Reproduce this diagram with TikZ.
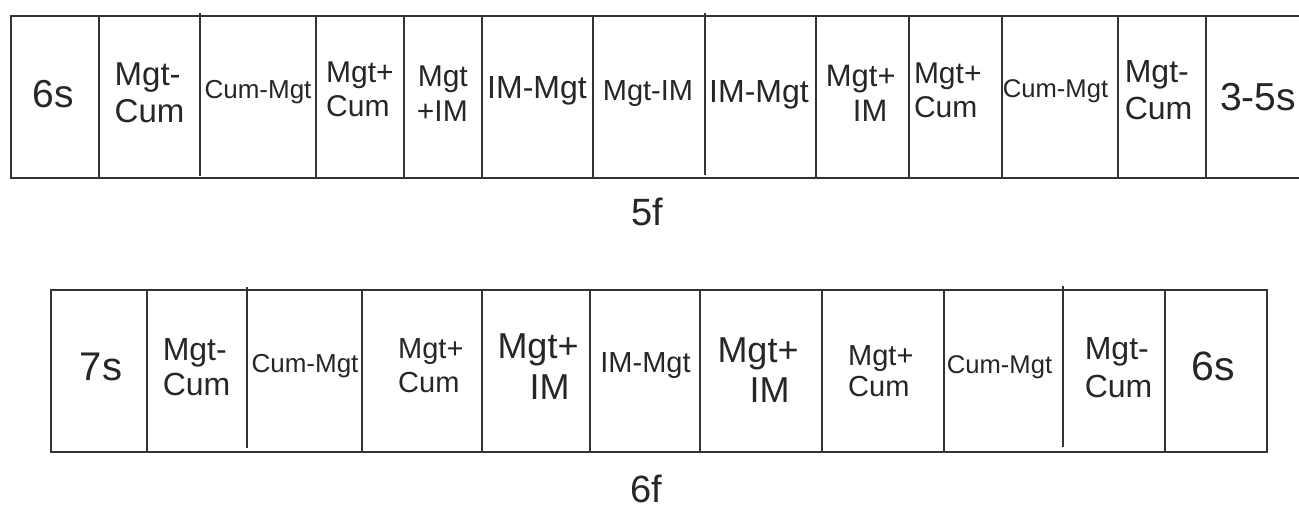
\documentclass[tikz,border=0pt]{standalone}
\usepackage{fontspec}
\setmainfont{Liberation Sans}
\newcommand{\fsz}[2]{\fontsize{#1pt}{#2pt}\selectfont}
\begin{document}
\begin{tikzpicture}[x=1pt,y=-1pt,
  grid/.style={draw=black!80,line width=2pt},
  lbl/.style={inner sep=0pt,text=black!85},
  one/.style={lbl,anchor=base},
  twol/.style={lbl,anchor=west,align=left},
  twor/.style={lbl,anchor=east,align=right}]
\useasboundingbox (0,0) rectangle (1299,507);

% ---- upper strip (open on the right) ----
\draw[grid] (1299,16) -- (11,16) -- (11,178) -- (1299,178);
\foreach \x in {99,316,404,482,593,816,909,1002,1118,1206}
  \draw[grid] (\x,16) -- (\x,178);
\draw[grid] (200,13) -- (200,176);
\draw[grid] (705,13) -- (705,175);

\node[one,font=\fsz{39}{44}] (t1) at (53.5,107) {6s};
\node[twol,font=\fsz{33}{36.4}] (t2) at (114.5,93) {Mgt-\\Cum};
\node[one,font=\fsz{26}{30}] (t3) at (258,98) {Cum-Mgt};
\node[twol,font=\fsz{30}{33.5}] (t4) at (326,89.5) {Mgt+\\Cum};
\node[twor,font=\fsz{30}{35.5}] (t5) at (468,93.5) {Mgt\\+IM};
\node[one,font=\fsz{32}{36}] (t6) at (537,98) {IM-Mgt};
\node[one,font=\fsz{29}{33}] (t7) at (648,100) {Mgt-IM};
\node[one,font=\fsz{32}{36}] (t8) at (759,102) {IM-Mgt};
\node[twol,font=\fsz{31}{34.8}] (t9) at (825.7,93.5) {Mgt+\\\hspace*{27pt}IM};
\node[twol,font=\fsz{30}{33.5}] (t10) at (913.8,90.5) {Mgt+\\Cum};
\node[one,font=\fsz{25.6}{30}] (t11) at (1055.5,97) {Cum-Mgt};
\node[twol,font=\fsz{32}{37}] (t12) at (1124.6,90) {Mgt-\\Cum};
\node[one,font=\fsz{39}{44}] (t13) at (1258,110) {3-5s};

\node[one,font=\fsz{38}{42}] (lab5) at (647.5,225) {5f};

% ---- lower strip ----
\draw[grid] (51,290) rectangle (1267,452);
\foreach \x in {147,362,482,590,700,822,944,1165}
  \draw[grid] (\x,290) -- (\x,452);
\draw[grid] (247,287) -- (247,448);
\draw[grid] (1063,286) -- (1063,447);

\node[one,font=\fsz{40}{44}] (b1) at (101,380) {7s};
\node[twol,font=\fsz{32}{35}] (b2) at (162.6,367) {Mgt-\\Cum};
\node[one,font=\fsz{26}{30}] (b3) at (305,372) {Cum-Mgt};
\node[twol,font=\fsz{29}{34}] (b4) at (398,365.5) {Mgt+\\Cum};
\node[twol,font=\fsz{36}{41}] (b5) at (497.3,366.5) {Mgt+\\\hspace*{32pt}IM};
\node[one,font=\fsz{29}{33}] (b6) at (645.5,372) {IM-Mgt};
\node[twol,font=\fsz{36}{40}] (b7) at (717.3,370) {Mgt+\\\hspace*{32pt}IM};
\node[twol,font=\fsz{29}{31}] (b8) at (848,371) {Mgt+\\Cum};
\node[one,font=\fsz{25.6}{30}] (b9) at (999.5,373) {Cum-Mgt};
\node[twol,font=\fsz{32}{38}] (b10) at (1084.6,367.5) {Mgt-\\Cum};
\node[one,font=\fsz{41}{45}] (b11) at (1213.5,380) {6s};

\node[one,font=\fsz{38}{42}] (lab6) at (646,502) {6f};
\end{tikzpicture}
\end{document}
